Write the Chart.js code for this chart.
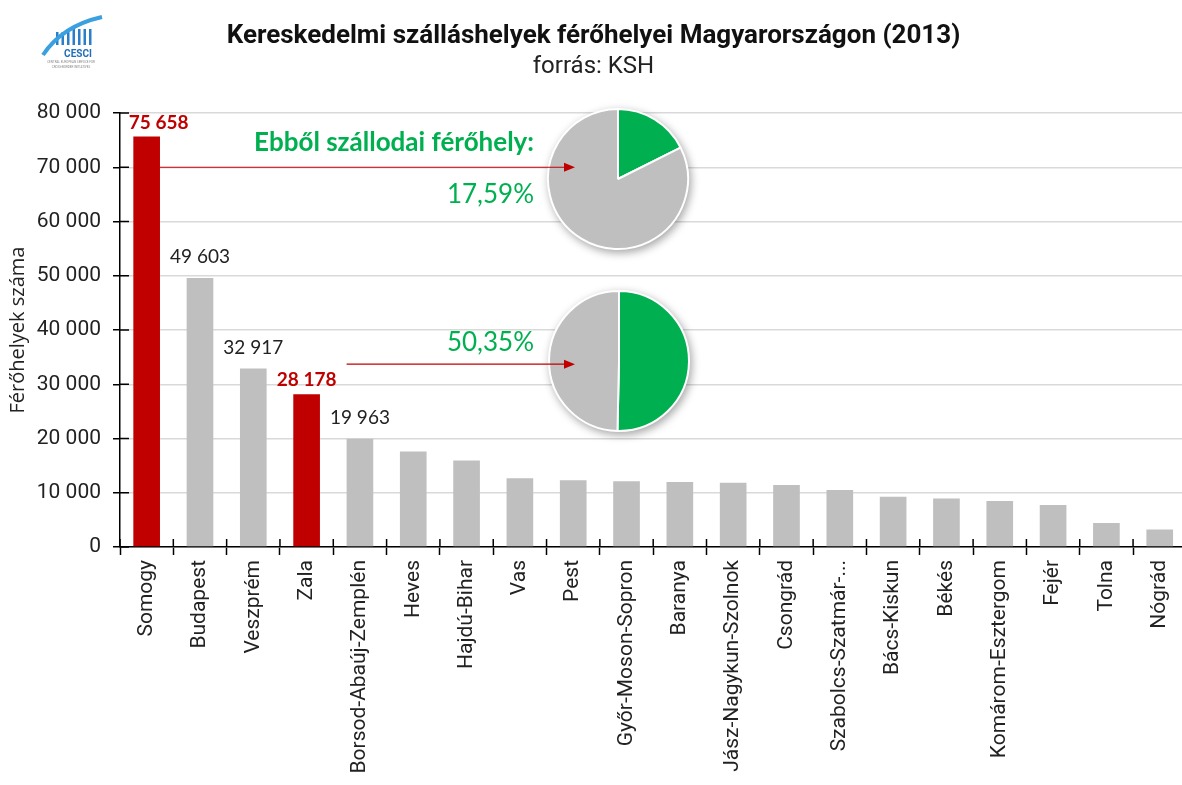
<!DOCTYPE html>
<html lang="hu">
<head>
<meta charset="utf-8">
<title>Kereskedelmi szálláshelyek férőhelyei</title>
<script src="https://cdn.jsdelivr.net/npm/chart.js@4.4.1/dist/chart.umd.min.js"></script>
<style>
  html, body { margin: 0; padding: 0; background: #fff; overflow: hidden; }
  #wrap { position: relative; width: 1190px; height: 785px; }
  #wrap canvas { position: absolute; }
  #foCanvas { left: 0; top: 0; }
  .pie { filter: drop-shadow(2px 3px 4px rgba(0,0,0,0.35)); }
  #pie1 { left: 543px; top: 104px; }
  #pie2 { left: 544px; top: 286px; }
  #nyilak { left: 0; top: 0; pointer-events: none; }
</style>
</head>
<body>
<div id="wrap">
  <canvas id="foCanvas" width="1190" height="785"></canvas>
  <canvas id="pie1" class="pie" width="150" height="150"></canvas>
  <canvas id="pie2" class="pie" width="150" height="150"></canvas>
  <canvas id="nyilak" width="1190" height="785"></canvas>
</div>
<script>
// megyék és férőhelyek (KSH, 2013)
var megyek = ['Somogy', 'Budapest', 'Veszprém', 'Zala', 'Borsod-Abaúj-Zemplén', 'Heves', 'Hajdú-Bihar', 'Vas',
    'Pest', 'Győr-Moson-Sopron', 'Baranya', 'Jász-Nagykun-Szolnok', 'Csongrád', 'Szabolcs-Szatmár-...',
    'Bács-Kiskun', 'Békés', 'Komárom-Esztergom', 'Fejér', 'Tolna', 'Nógrád'];
var ferohely = [75658, 49603, 32917, 28178, 19963, 17590, 15930, 12670, 12300, 12110, 11980, 11850, 11430,
    10500, 9260, 8960, 8460, 7720, 4440, 3220];
var kiemelt = ['Somogy', 'Zala'];
var feliratozott = 5; // az első 5 oszlop kap értékcímkét

// szállodai férőhelyek aránya (Somogy, Zala)
var pieCimkek = ['Szállodai', 'Egyéb'];
var somogyArany = [17.59, 82.41];
var zalaArany = [50.35, 49.65];

var yMin = 0, yMax = 80000, yStep = 10000;

var PIROS = '#c00000', SZURKE = '#bfbfbf', ZOLD = '#00b050';

function ezres(v) {
    return String(v).replace(/\B(?=(\d{3})+(?!\d))/g, ' ');
}

var mainChart;

// CESCI logó (egyszerűsített)
var logoPlugin = {
    id: 'logo',
    afterDraw: function(chart) {
        var c = chart.ctx;
        c.save();
        c.fillStyle = '#2a7fc9';
        for (var i = 0; i < 7; i++) {
            c.fillRect(56 + i * 5.5, 29 + (i < 3 ? 3 : 0), 2.5, 16 - (i < 3 ? 3 : 0));
        }
        c.strokeStyle = '#3aa0e0';
        c.lineWidth = 4;
        c.beginPath();
        c.moveTo(43, 55);
        c.quadraticCurveTo(62, 26, 102, 17);
        c.stroke();
        c.fillStyle = '#1f6fb8';
        c.font = 'bold 10px Roboto';
        c.textAlign = 'center';
        c.fillText('CESCI', 78, 57);
        c.fillStyle = '#888';
        c.font = '3px Roboto';
        c.fillText('CENTRAL EUROPEAN SERVICE FOR', 71, 63);
        c.fillText('CROSS-BORDER INITIATIVES', 71, 68);
        c.restore();
    }
};

// tengelyeken átnyúló osztásjelek
var keresztJelek = {
    id: 'keresztJelek',
    afterDraw: function(chart) {
        var c = chart.ctx, a = chart.chartArea;
        var y = chart.scales.y;
        c.save();
        c.strokeStyle = '#000';
        c.lineWidth = 1.5;
        c.beginPath();
        for (var i = 0; i <= megyek.length; i++) {
            var px = a.left + (a.right - a.left) * i / megyek.length;
            c.moveTo(px, a.bottom);
            c.lineTo(px, a.bottom - 8);
        }
        y.ticks.forEach(function(t) {
            var py = y.getPixelForValue(t.value);
            c.moveTo(a.left, py);
            c.lineTo(a.left + 9, py);
        });
        c.stroke();
        c.restore();
    }
};

// értékcímkék és zöld feliratok
var cimkek = {
    id: 'cimkek',
    afterDatasetsDraw: function(chart) {
        var c = chart.ctx;
        var meta = chart.getDatasetMeta(0);
        c.save();
        c.textAlign = 'center';
        c.textBaseline = 'middle';
        for (var i = 0; i < feliratozott; i++) {
            var bar = meta.data[i];
            var piros = kiemelt.indexOf(megyek[i]) >= 0;
            c.fillStyle = piros ? PIROS : '#222';
            c.font = (piros ? 'bold ' : '') + '19px Lato';
            var dx = i === 0 ? 12 : 0;
            c.fillText(ezres(ferohely[i]), bar.x + dx, bar.y - (piros ? 14 : 21));
        }
        c.fillStyle = ZOLD;
        c.textAlign = 'right';
        c.font = 'bold 26px Lato';
        c.fillText('Ebből szállodai férőhely:', 534, 143);
        c.font = '26px Lato';
        c.fillText(somogyArany[0].toFixed(2).replace('.', ',') + '%', 534, 195);
        c.fillText(zalaArany[0].toFixed(2).replace('.', ',') + '%', 534, 343);
        c.restore();
    }
};

// nyilak a kiemelt oszlopoktól a kördiagramokig (külön rétegen, a körök fölött)
function nyil(c, x1, x2, y) {
    c.beginPath();
    c.moveTo(x1, y);
    c.lineTo(x2 - 9, y);
    c.stroke();
    c.beginPath();
    c.moveTo(x2, y);
    c.lineTo(x2 - 11, y - 4.5);
    c.lineTo(x2 - 11, y + 4.5);
    c.closePath();
    c.fill();
}

var nyilPlugin = {
    id: 'nyilPlugin',
    afterDraw: function(chart) {
        var c = document.getElementById('nyilak').getContext('2d');
        var meta = chart.getDatasetMeta(0);
        var y = chart.scales.y;
        c.clearRect(0, 0, 1190, 785);
        c.strokeStyle = PIROS;
        c.fillStyle = PIROS;
        c.lineWidth = 1.2;
        var b0 = meta.data[0], b4 = meta.data[4];
        nyil(c, b0.x + b0.width / 2, 575, y.getPixelForValue(70000));
        nyil(c, b4.x - b4.width / 2, 575, y.getPixelForValue(33700));
    }
};

mainChart = new Chart(document.getElementById('foCanvas'), {
    type: 'bar',
    data: {
        labels: megyek,
        datasets: [{
            label: 'Férőhelyek száma',
            data: ferohely,
            backgroundColor: megyek.map(function(m) { return kiemelt.indexOf(m) >= 0 ? PIROS : SZURKE; }),
            categoryPercentage: 1,
            barPercentage: 0.5
        }]
    },
    options: {
        responsive: false,
        animation: false,
        layout: { padding: { left: 0, right: 3, top: 0, bottom: 0 } },
        plugins: {
            legend: { display: false },
            tooltip: { enabled: false },
            title: {
                display: true,
                text: 'Kereskedelmi szálláshelyek férőhelyei Magyarországon (2013)',
                color: '#111',
                font: { family: 'Roboto', size: 26, weight: 'bold', lineHeight: 1.2 },
                padding: { top: 21, bottom: 0 }
            },
            subtitle: {
                display: true,
                text: 'forrás: KSH',
                color: '#222',
                font: { family: 'Roboto', size: 24, lineHeight: 1.2 },
                padding: { top: 0, bottom: 32 }
            }
        },
        scales: {
            x: {
                offset: true,
                grid: { drawOnChartArea: false, offset: true, tickLength: 8, tickColor: '#000', tickWidth: 1.5 },
                border: { color: '#000', width: 1.5 },
                ticks: {
                    autoSkip: false, maxRotation: 90, minRotation: 90,
                    color: '#222', padding: 5,
                    font: { family: 'Roboto', size: 21 }
                },
                afterFit: function(s) { s.height = 238; }
            },
            y: {
                min: yMin, max: yMax,
                grid: { color: '#d9d9d9', lineWidth: 1.5, tickLength: 7, tickColor: '#000', tickWidth: 1.5 },
                border: { color: '#000', width: 1.5 },
                ticks: {
                    stepSize: yStep, color: '#222', padding: 12,
                    font: { family: 'Roboto', size: 21 },
                    callback: function(v) { return ezres(v); }
                },
                title: {
                    display: true, text: 'Férőhelyek száma', color: '#222',
                    font: { family: 'Open Sans', size: 20 },
                    padding: { top: 6, bottom: 0 }
                },
                afterFit: function(s) { s.width = 120; }
            }
        }
    },
    plugins: [logoPlugin, keresztJelek, cimkek, nyilPlugin]
});

function korDiagram(id, adat) {
    return new Chart(document.getElementById(id), {
        type: 'pie',
        data: {
            labels: pieCimkek,
            datasets: [{
                data: adat,
                backgroundColor: [ZOLD, SZURKE],
                borderColor: '#fff',
                borderWidth: 2
            }]
        },
        options: {
            responsive: false,
            animation: false,
            layout: { padding: 4 },
            plugins: { legend: { display: false }, tooltip: { enabled: false } }
        }
    });
}

korDiagram('pie1', somogyArany);
korDiagram('pie2', zalaArany);
</script>
</body>
</html>
